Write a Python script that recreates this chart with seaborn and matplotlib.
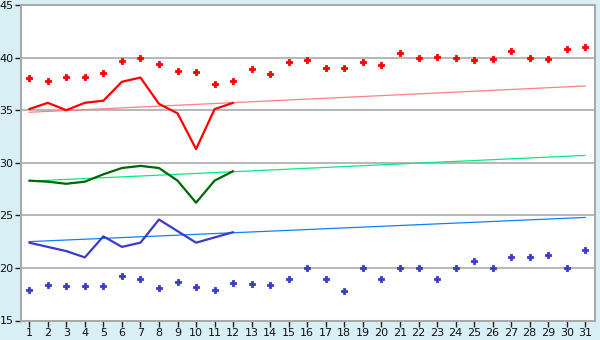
import numpy as np
import pandas as pd
import matplotlib
matplotlib.use("Agg")
import matplotlib.pyplot as plt
import seaborn as sns

days = list(range(1, 32))
max_points = [38.1, 37.8, 38.2, 38.2, 38.5, 39.7, 40.0, 39.4, 38.7, 38.6,
              37.5, 37.8, 38.9, 38.4, 39.6, 39.8, 39.0, 39.0, 39.6, 39.3,
              40.4, 40.0, 40.1, 40.0, 39.8, 39.9, 40.6, 40.0, 39.9, 40.8, 41.0]
min_points = [17.9, 18.4, 18.3, 18.3, 18.3, 19.2, 18.9, 18.1, 18.7, 18.2,
              17.9, 18.6, 18.5, 18.4, 18.9, 20.0, 18.9, 17.8, 20.0, 18.9,
              20.0, 20.0, 18.9, 20.0, 20.7, 20.0, 21.0, 21.0, 21.2, 20.0, 21.7]
line_days = list(range(1, 13))
red_line = [35.1, 35.7, 35.0, 35.7, 35.9, 37.7, 38.1, 35.6, 34.7, 31.3, 35.1, 35.7]
green_line = [28.3, 28.2, 28.0, 28.2, 28.9, 29.5, 29.7, 29.5, 28.3, 26.2, 28.3, 29.2]
blue_line = [22.4, 22.0, 21.6, 21.0, 23.0, 22.0, 22.4, 24.6, 23.5, 22.4, 22.9, 23.4]
trend_days = [1, 31]
red_trend = [34.8, 37.3]
green_trend = [28.25, 30.7]
blue_trend = [22.5, 24.8]
y_ticks = [15, 20, 25, 30, 35, 40, 45]

sns.set_theme(style="white")
plt.rcParams['font.family'] = ['DejaVu Sans']

fig = plt.figure(figsize=(6, 3.4), dpi=100)
fig.patch.set_facecolor("#d9eff6")
ax = fig.add_axes([20.5 / 600, 1 - 320.5 / 340, (595 - 20.5) / 600, (320.5 - 5) / 340])
ax.set_facecolor("white")

for yv in y_ticks[1:-1]:
    ax.axhline(yv, color="#aaaaaa", lw=1.2, zorder=0)

pts = pd.DataFrame({"day": days, "max": max_points, "min": min_points})
ln = pd.DataFrame({"day": line_days, "red": red_line, "green": green_line, "blue": blue_line})
tr = pd.DataFrame({"day": trend_days, "red": red_trend, "green": green_trend, "blue": blue_trend})

sns.lineplot(data=tr, x="day", y="red", ax=ax, color="#ff8080", lw=0.9, zorder=2)
sns.lineplot(data=tr, x="day", y="green", ax=ax, color="#00ee80", lw=0.9, zorder=2)
sns.lineplot(data=tr, x="day", y="blue", ax=ax, color="#1080ff", lw=0.9, zorder=2)

sns.lineplot(data=ln, x="day", y="red", ax=ax, color="#ff0000", lw=1.6, zorder=3)
sns.lineplot(data=ln, x="day", y="green", ax=ax, color="#006600", lw=1.6, zorder=3)
sns.lineplot(data=ln, x="day", y="blue", ax=ax, color="#3a3acc", lw=1.6, zorder=3)

sns.scatterplot(data=pts, x="day", y="max", ax=ax, color="#ff0000", marker="P",
                s=20, edgecolor="#ff0000", linewidth=0.6, zorder=4)
sns.scatterplot(data=pts, x="day", y="min", ax=ax, color="#3a3acc", marker="P",
                s=20, edgecolor="#3a3acc", linewidth=0.6, zorder=4)

ax.set_xlim(0.53, 31.52)
ax.set_ylim(15, 45)
ax.set_xticks(days)
ax.set_xticklabels([str(d) for d in days])
ax.set_yticks(y_ticks)
ax.set_xlabel("")
ax.set_ylabel("")
for s in ax.spines.values():
    s.set_color("#aaaaaa")
    s.set_linewidth(1.5)
ax.tick_params(axis="both", which="both", direction="out", length=4.5, width=1,
               color="#222222", labelsize=8, labelcolor="#111111", pad=1)
ax.tick_params(axis="y", pad=0.5)
ax.tick_params(left=True, bottom=True)

fig.savefig("out.png", dpi=100, facecolor=fig.get_facecolor())
